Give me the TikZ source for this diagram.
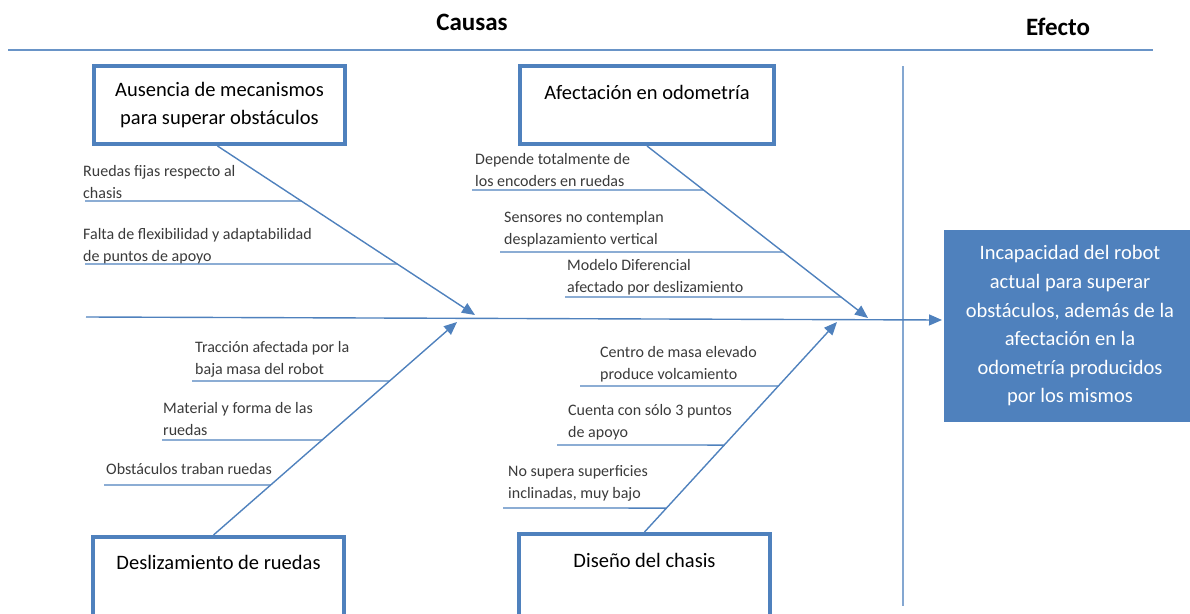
\documentclass[tikz,border=0pt]{standalone}
\usepackage{fontspec}
\setmainfont{Carlito}
\usetikzlibrary{arrows.meta}
\usetikzlibrary{positioning}
\definecolor{fishblue}{HTML}{4F81BD}
\definecolor{notegray}{HTML}{3A3A3A}

\begin{document}
\begin{tikzpicture}[x=1pt,y=-1pt,
	causebox/.style={draw=fishblue, line width=4pt, minimum width=251pt, minimum height=78pt, inner sep=0pt, font=\fontsize{20.5}{28}\selectfont},
	note/.style={anchor=base west, align=left, inner sep=0pt, text=notegray, font=\fontsize{16}{21.5}\selectfont},
	bone/.style={draw=fishblue, line width=1.4pt},
	head/.style={-{Triangle[length=13pt,width=11pt]}}]
	\useasboundingbox (0,0) rectangle (1190,613);
	\clip (0,0) rectangle (1190,613);
	%%titles and frame lines
	\node[font=\fontsize{25}{30}\selectfont\bfseries] (causas) at (472,22) {Causas};
	\node[font=\fontsize{25}{30}\selectfont\bfseries] (efectotit) at (1058,27) {Efecto};
	\draw[fishblue!85, line width=2pt] (8,50) -- (1153,50);
	\draw[fishblue!70, line width=2.2pt] (903,66) -- (903,606);
	%%nodes
	\node[causebox, align=center] (ausencia) at (219.5,105) {Ausencia de mecanismos\\para superar obstáculos};
	\node[causebox, minimum width=254pt, text height=33pt, text depth=45pt] (odometria) at (647,105) {Afectación en odometría};
	\node[causebox, anchor=north, text height=32pt, text depth=60pt] (deslizamiento) at (218.5,535) {Deslizamiento de ruedas};
	\node[causebox, anchor=north, text height=33pt, text depth=60pt] (chasis) at (644.5,532) {Diseño del chasis};
	\node[fill=fishblue, minimum width=252pt, minimum height=192pt, align=center, text=white, font=\fontsize{20.5}{28.6}\selectfont] (efecto) at (1070,326) {Incapacidad del robot\\actual para superar\\obstáculos, además de la\\afectación en la\\odometría producidos\\por los mismos};
	%%spine and bones
	\coordinate (tail) at (86,317);
	\coordinate (tip0) at (942,320);
	\coordinate (tip1) at (475,315);
	\coordinate (tip2) at (868,318);
	\coordinate (tip3) at (457,322);
	\coordinate (tip4) at (837,322);
	\coordinate (root1) at ([xshift=-2pt]ausencia.south);
	\coordinate (root3) at ([xshift=-5pt]deslizamiento.north);
	\draw[bone, head] (tail) -- (tip0);
	\draw[bone, head] (root1) -- (tip1);
	\draw[bone, head] (odometria.south) -- (tip2);
	\draw[bone, head] (root3) -- (tip3);
	\draw[bone, head] (chasis.north) -- (tip4);
	%%sub causes
	\node[note] (ruedas) at (83,198) {Ruedas fijas respecto al\\chasis};
	\node[note] (falta) at (83,261) {Falta de flexibilidad y adaptabilidad\\de puntos de apoyo};
	\node[note] (depende) at (475,186) {Depende totalmente de\\los encoders en ruedas};
	\node[note] (sensores) at (504,244) {Sensores no contemplan\\desplazamiento vertical};
	\node[note] (modelo) at (567,292) {Modelo Diferencial\\afectado por deslizamiento};
	\node[note] (traccion) at (195,374) {Tracción afectada por la\\baja masa del robot};
	\node[note] (material) at (163,435) {Material y forma de las\\ruedas};
	\node[note] (traban) at (106,474) {Obstáculos traban ruedas};
	\node[note] (centro) at (600,379) {Centro de masa elevado\\produce volcamiento};
	\node[note] (cuenta) at (568,437) {Cuenta con sólo 3 puntos\\de apoyo};
	\node[note] (supera) at (508,498) {No supera superficies\\inclinadas, muy bajo};
	%%underlines
	\coordinate (u1) at (85,201);
	\coordinate (u2) at (85,264);
	\coordinate (u3) at (472,190);
	\coordinate (u4) at (500,252);
	\coordinate (u5) at (565,297);
	\coordinate (u6) at (192,381);
	\coordinate (u7) at (162,440);
	\coordinate (u8) at (104,485);
	\coordinate (u9) at (580,386);
	\coordinate (u10) at (557,445);
	\coordinate (u11) at (503,508);
	\draw[bone] (u1) -- (intersection of root1--tip1 and u1--u1 -| tip1);
	\draw[bone] (u2) -- (intersection of root1--tip1 and u2--u2 -| tip1);
	\draw[bone] (u3) -- (intersection of odometria.south--tip2 and u3--u3 -| tip2);
	\draw[bone] (u4) -- (intersection of odometria.south--tip2 and u4--u4 -| tip2);
	\draw[bone] (u5) -- (intersection of odometria.south--tip2 and u5--u5 -| tip2);
	\draw[bone] (u6) -- (intersection of root3--tip3 and u6--u6 -| tip3);
	\draw[bone] (u7) -- (intersection of root3--tip3 and u7--u7 -| tip3);
	\draw[bone] (u8) -- (intersection of root3--tip3 and u8--u8 -| tip3);
	\draw[bone] (u9) -- (intersection of chasis.north--tip4 and u9--u9 -| tip4);
	\draw[bone] (u10) -- (intersection of chasis.north--tip4 and u10--u10 -| tip4);
	\draw[bone] (u11) -- (intersection of chasis.north--tip4 and u11--u11 -| tip4);
\end{tikzpicture}
\end{document}
